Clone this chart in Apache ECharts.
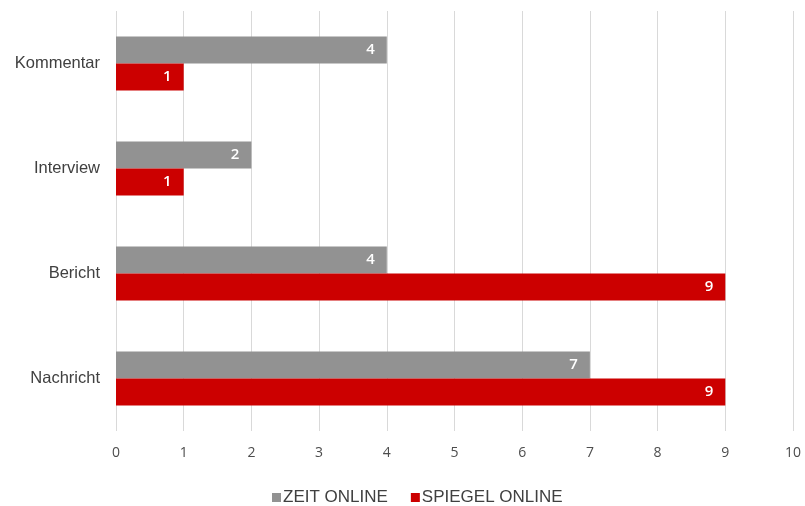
<!DOCTYPE html>
<html>
<head>
<meta charset="utf-8">
<script src="https://cdn.jsdelivr.net/npm/echarts@6/dist/echarts.min.js"></script>
<style>
  html, body { margin: 0; padding: 0; background: #ffffff; }
  #chart { width: 805px; height: 506px; }
</style>
</head>
<body>
<div id="chart"></div>
<script>
// Article formats, listed bottom-to-top along the category axis
const categories = ['Nachricht', 'Bericht', 'Interview', 'Kommentar'];
const zeitOnline = [7, 4, 2, 4];
const spiegelOnline = [9, 9, 1, 1];
const xTicks = { min: 0, max: 10, interval: 1 };

const chart = echarts.init(document.getElementById('chart'), null, { renderer: 'canvas' });

const valueLabel = {
  show: true,
  position: 'insideRight',
  distance: 12,
  color: '#ffffff',
  fontFamily: 'Open Sans, sans-serif',
  fontSize: 15,
  fontWeight: 600
};

chart.setOption({
  animation: false,
  backgroundColor: '#ffffff',
  grid: { left: 116, right: 12, top: 11, bottom: 75, containLabel: false },
  legend: {
    data: ['ZEIT ONLINE', 'SPIEGEL ONLINE'],
    left: 267,
    top: 484,
    itemWidth: 9,
    itemHeight: 9,
    itemGap: 23,
    icon: 'rect',
    textStyle: { color: '#404040', fontSize: 17, fontFamily: 'Liberation Sans, Arial, sans-serif', padding: [0, 0, 0, -3] }
  },
  xAxis: {
    type: 'value',
    min: xTicks.min,
    max: xTicks.max,
    interval: xTicks.interval,
    axisLine: { show: false },
    axisTick: { show: false },
    splitLine: { show: true, lineStyle: { color: '#d9d9d9', width: 1 } },
    axisLabel: { color: '#4d4d4d', fontSize: 14, fontFamily: 'Open Sans, sans-serif', margin: 15 }
  },
  yAxis: {
    type: 'category',
    data: categories,
    axisLine: { show: false },
    axisTick: { show: false },
    axisLabel: { color: '#404040', fontSize: 16.5, fontFamily: 'Liberation Sans, Arial, sans-serif', margin: 16 }
  },
  series: [
    {
      name: 'ZEIT ONLINE',
      type: 'bar',
      data: zeitOnline,
      barWidth: 27,
      barGap: '0%',
      itemStyle: { color: '#929292' },
      label: valueLabel
    },
    {
      name: 'SPIEGEL ONLINE',
      type: 'bar',
      data: spiegelOnline,
      barWidth: 27,
      barGap: '0%',
      itemStyle: { color: '#cc0000' },
      label: valueLabel
    }
  ]
});
</script>
</body>
</html>
